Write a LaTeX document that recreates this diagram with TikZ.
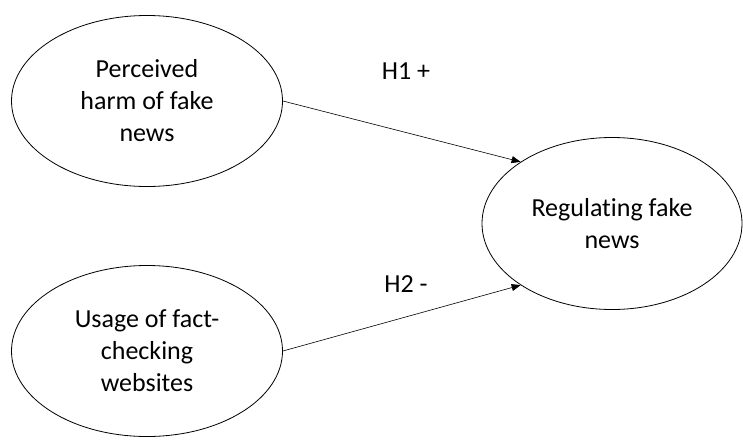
\documentclass[tikz,border=0pt]{standalone}
\usepackage{fontspec}
\setmainfont{Carlito}[RawFeature={-liga}]
\usetikzlibrary{shapes.geometric,arrows.meta}
\begin{document}
\begin{tikzpicture}[x=1pt,y=-1pt,
  construct/.style={draw=black, line width=0.8pt, ellipse, inner sep=0pt, align=center,
    font=\fontsize{26}{32}\selectfont},
  lbl/.style={font=\fontsize{26}{32}\selectfont, inner sep=0pt},
  path/.style={draw=black, line width=0.6pt, -{Triangle[length=9pt,width=7pt]}}]
\useasboundingbox (0,0) rectangle (743,439);
\node[construct, minimum width=271pt, minimum height=171pt] (harm) at (147,101)
  {Perceived\\harm of fake\\news};
\node[construct, minimum width=271pt, minimum height=171pt] (usage) at (147,351)
  {Usage of fact-\\checking\\websites};
\node[construct, minimum width=260pt, minimum height=172pt] (reg) at (612,223.5)
  {Regulating fake\\news};
\node[lbl] (h1) at (406,71) {H1 +};
\node[lbl] (h2) at (406,284) {H2 -};
\draw[path] (harm.east) -- (reg.146.5);
\draw[path] (usage.east) -- (reg.-146.5);
\end{tikzpicture}
\end{document}
